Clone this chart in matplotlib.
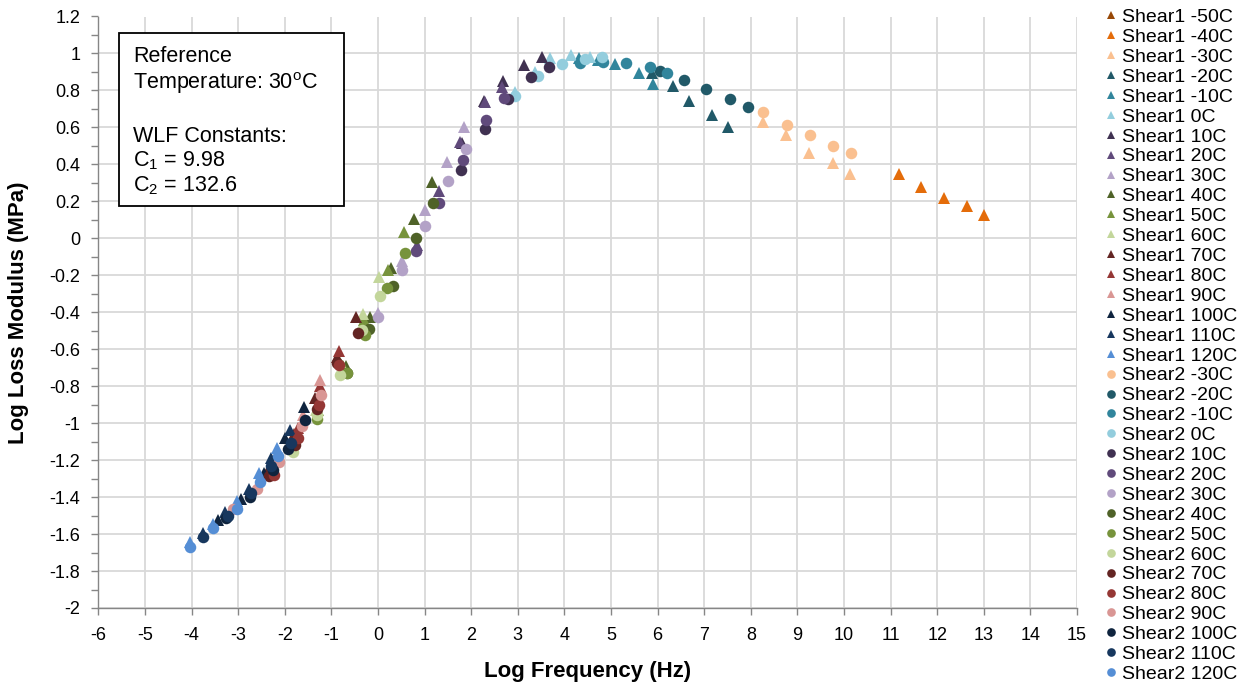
import matplotlib
matplotlib.use('Agg')
import matplotlib.pyplot as plt
from matplotlib.patches import Rectangle
from matplotlib.ticker import MultipleLocator, FuncFormatter

plt.rcParams['font.family'] = ['Liberation Sans', 'DejaVu Sans']
plt.rcParams['axes.unicode_minus'] = False
plt.rcParams['mathtext.fontset'] = 'custom'
plt.rcParams['mathtext.rm'] = 'Liberation Sans'
plt.rcParams['mathtext.it'] = 'Liberation Sans:italic'
plt.rcParams['mathtext.bf'] = 'Liberation Sans:bold'

# temperatures and colours (same colour for a temperature in both shear tests)
temps1 = ['-50C', '-40C', '-30C', '-20C', '-10C', '0C', '10C', '20C', '30C',
          '40C', '50C', '60C', '70C', '80C', '90C', '100C', '110C', '120C']
temps2 = ['-30C', '-20C', '-10C', '0C', '10C', '20C', '30C',
          '40C', '50C', '60C', '70C', '80C', '90C', '100C', '110C', '120C']
colors = {'-50C': '#984807', '-40C': '#E46C0A', '-30C': '#FAC090',
          '-20C': '#215968', '-10C': '#31859C', '0C': '#93CDDD',
          '10C': '#403151', '20C': '#604A7B', '30C': '#B3A2C7',
          '40C': '#4F6228', '50C': '#77933C', '60C': '#C3D69B',
          '70C': '#632523', '80C': '#953735', '90C': '#D99694',
          '100C': '#0F243E', '110C': '#17375E', '120C': '#558ED5'}

# Shear1: shifted log frequency / log loss modulus per temperature
shear1_x = [
    [],
    [11.18, 11.65, 12.14, 12.64, 13.01],
    [8.27, 8.76, 9.25, 9.77, 10.13],
    [5.88, 6.34, 6.67, 7.16, 7.52],
    [4.32, 4.72, 5.08, 5.60, 5.91],
    [2.94, 3.37, 3.69, 4.15, 4.55],
    [1.80, 2.28, 2.69, 3.14, 3.53],
    [0.84, 1.32, 1.77, 2.30, 2.66],
    [0.01, 0.51, 1.00, 1.48, 1.84],
    [-0.69, -0.18, 0.28, 0.78, 1.16],
    [-1.28, -0.74, -0.30, 0.21, 0.57],
    [-1.32, -0.82, -0.33, 0.02],
    [-2.33, -1.80, -1.35, -0.88, -0.46],
    [-2.20, -1.72, -1.25, -0.83],
    [-2.12, -1.60, -1.25],
    [-3.43, -2.93, -2.45, -2.00, -1.58],
    [-3.75, -3.28, -2.76, -2.29, -1.89],
    [-4.04, -3.54, -3.03, -2.56, -2.17],
]
shear1_y = [
    [],
    [0.347, 0.277, 0.217, 0.177, 0.127],
    [0.631, 0.559, 0.464, 0.406, 0.347],
    [0.896, 0.826, 0.745, 0.668, 0.604],
    [0.975, 0.965, 0.943, 0.893, 0.835],
    [0.790, 0.900, 0.974, 0.992, 0.979],
    [0.515, 0.745, 0.851, 0.936, 0.983],
    [-0.035, 0.257, 0.523, 0.739, 0.821],
    [-0.404, -0.125, 0.154, 0.415, 0.601],
    [-0.693, -0.427, -0.163, 0.103, 0.307],
    [-0.93, -0.69, -0.442, -0.170, 0.034],
    [-0.93, -0.67, -0.407, -0.211],
    [-1.24, -1.06, -0.864, -0.64, -0.423],
    [-1.20, -1.026, -0.801, -0.612],
    [-1.17, -0.954, -0.765],
    [-1.524, -1.408, -1.268, -1.083, -0.912],
    [-1.594, -1.481, -1.356, -1.191, -1.035],
    [-1.644, -1.543, -1.423, -1.269, -1.134],
]

# Shear2
shear2_x = [
    [8.26, 8.78, 9.27, 9.77, 10.15],
    [6.05, 6.57, 7.05, 7.56, 7.93],
    [4.33, 4.83, 5.33, 5.83, 6.21],
    [2.94, 3.43, 3.94, 4.44, 4.81],
    [1.78, 2.29, 2.80, 3.28, 3.67],
    [0.82, 1.32, 1.82, 2.31, 2.71],
    [0.01, 0.51, 1.00, 1.50, 1.89],
    [-0.67, -0.19, 0.32, 0.81, 1.19],
    [-1.30, -0.66, -0.28, 0.20, 0.58],
    [-1.83, -1.31, -0.82, -0.34, 0.04],
    [-2.33, -1.79, -1.31, -0.87, -0.42],
    [-2.22, -1.72, -1.27, -0.83],
    [-3.10, -2.59, -2.12, -1.62, -1.22],
    [-3.25, -2.74, -2.26, -1.94, -1.57],
    [-3.75, -3.22, -2.72, -2.30, -1.86],
    [-4.04, -3.54, -3.03, -2.54, -2.15],
]
shear2_y = [
    [0.682, 0.614, 0.559, 0.502, 0.462],
    [0.905, 0.857, 0.808, 0.752, 0.709],
    [0.947, 0.956, 0.950, 0.929, 0.896],
    [0.770, 0.880, 0.942, 0.969, 0.979],
    [0.370, 0.594, 0.752, 0.871, 0.925],
    [-0.066, 0.193, 0.424, 0.641, 0.761],
    [-0.423, -0.174, 0.064, 0.311, 0.484],
    [-0.729, -0.491, -0.257, 0.003, 0.190],
    [-0.977, -0.729, -0.525, -0.270, -0.077],
    [-1.156, -0.954, -0.738, -0.495, -0.311],
    [-1.288, -1.116, -0.923, -0.675, -0.512],
    [-1.278, -1.080, -0.90, -0.684],
    [-1.465, -1.354, -1.212, -1.017, -0.846],
    [-1.514, -1.399, -1.251, -1.139, -0.981],
    [-1.616, -1.50, -1.38, -1.23, -1.107],
    [-1.669, -1.566, -1.464, -1.320, -1.179],
]

W, H = 1247, 686
fig = plt.figure(figsize=(W / 100, H / 100), dpi=100)
ax = fig.add_axes([98.3 / W, 1 - 608 / H, (1077 - 98.3) / W, (608 - 16.5) / H])

handles = []
for t, xs, ys in zip(temps1, shear1_x, shear1_y):
    h, = ax.plot(xs, ys, linestyle='none', marker='^', ms=8, color=colors[t],
                 mec=colors[t], mew=0, label='Shear1 ' + t)
    handles.append(h)
for t, xs, ys in zip(temps2, shear2_x, shear2_y):
    h, = ax.plot(xs, ys, linestyle='none', marker='o', ms=8.3, color=colors[t],
                 mec=colors[t], mew=0, label='Shear2 ' + t)
    handles.append(h)

ax.set_xlim(-6, 15)
ax.set_ylim(-2, 1.2)
ax.xaxis.set_major_locator(MultipleLocator(1))
ax.yaxis.set_major_locator(MultipleLocator(0.2))
ax.yaxis.set_minor_locator(MultipleLocator(0.1))
ax.yaxis.set_major_formatter(FuncFormatter(lambda v, p: '%g' % (round(v, 1) + 0.0)))
ax.grid(True, which='major', color='#D9D9D9', lw=1.3)
ax.set_axisbelow(True)
for s in ['top', 'right']:
    ax.spines[s].set_visible(False)
for s in ['left', 'bottom']:
    ax.spines[s].set_color('#868686')
    ax.spines[s].set_linewidth(1)
ax.tick_params(axis='both', which='both', direction='out', length=5, width=1,
               color='#868686', labelsize=13, labelcolor='black')
ax.tick_params(axis='y', pad=8)
ax.tick_params(axis='x', pad=9)

ax.set_xlabel('Log Frequency (Hz)', fontsize=16, fontweight='bold')
ax.set_ylabel('Log Loss Modulus (MPa)', fontsize=16, fontweight='bold')
ax.xaxis.set_label_coords(0.5, -0.108)
ax.xaxis.label.set_va('center')
ax.yaxis.set_label_coords(-0.082, 0.5)
ax.yaxis.label.set_va('center')

# annotation box
fig.add_artist(Rectangle((119 / W, 1 - 205.7 / H), (344 - 119) / W, (205.7 - 32.7) / H,
                         transform=fig.transFigure, facecolor='white',
                         edgecolor='black', lw=1.3, zorder=5))
box_lines = [('Reference', 62.3), ('Temperature: 30$^{\\mathrm{o}}$C', 89.3),
             ('WLF Constants:', 141.7), ('C$_1$ = 9.98', 166.7),
             ('C$_2$ = 132.6', 191.0)]
for txt, yb in box_lines:
    fig.text(133.3 / W, 1 - yb / H, txt, fontsize=15.5, va='baseline', ha='left', zorder=6)

fig.legend(handles=handles, loc='upper left',
           bbox_to_anchor=(1104 / W, 1 - 8.5 / H), frameon=False,
           fontsize=14, handlelength=0.7, handletextpad=0.25,
           labelspacing=0.118, borderpad=0, borderaxespad=0, markerscale=0.75)

fig.savefig('out.png', dpi=100)
